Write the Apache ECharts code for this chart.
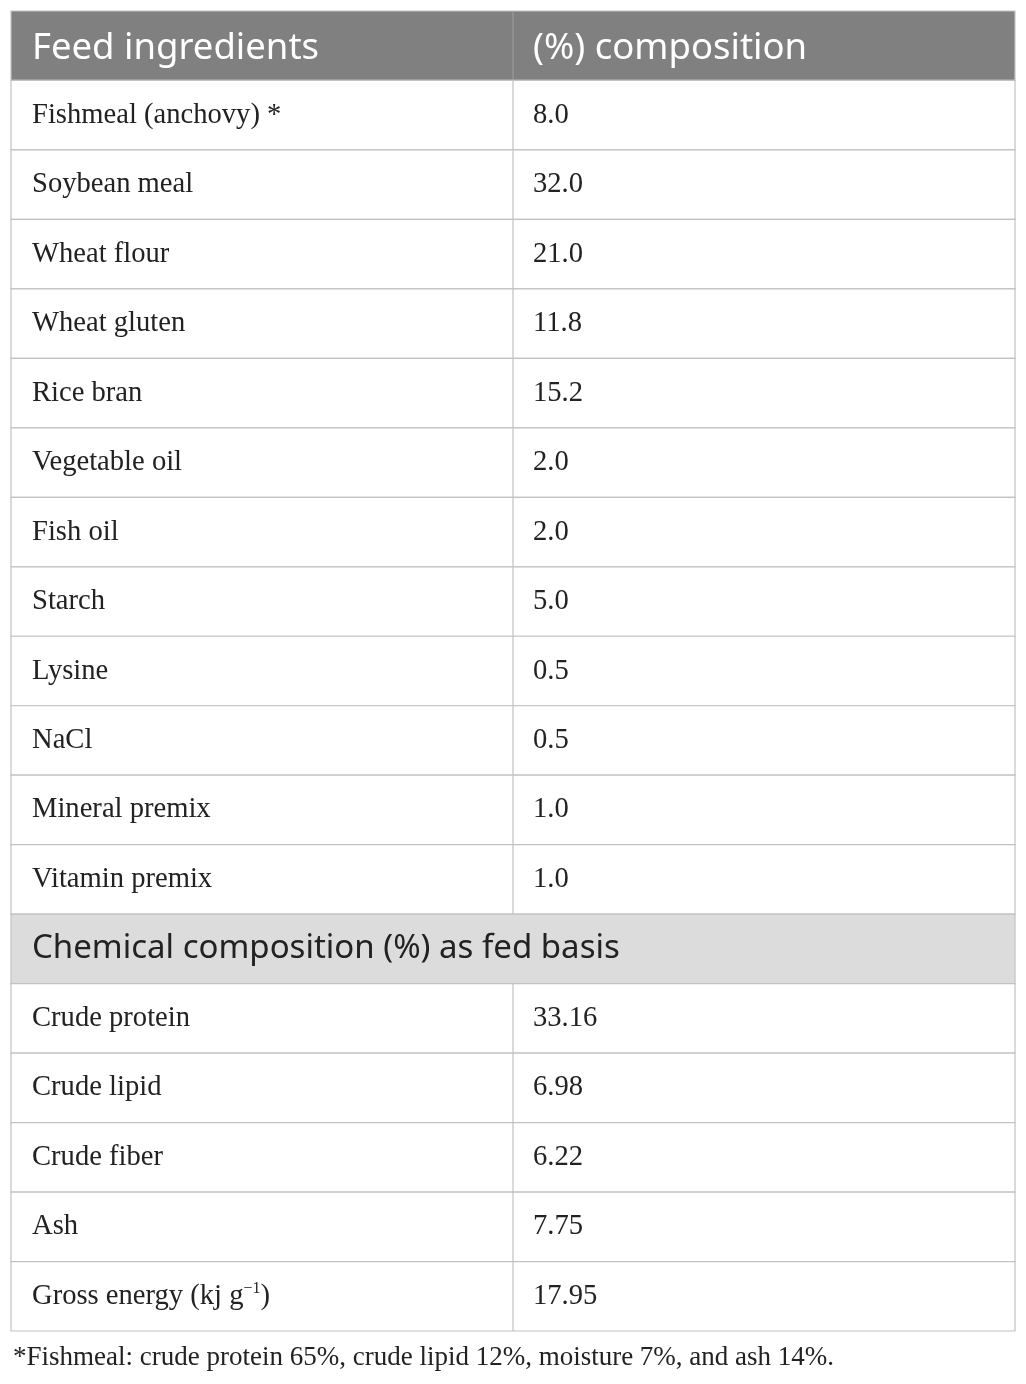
<!DOCTYPE html>
<html><head><meta charset="utf-8">
<script src="https://cdn.jsdelivr.net/npm/echarts@6/dist/echarts.min.js"></script>
<style>html,body{margin:0;padding:0;background:#fff}#c{width:1026px;height:1384px}</style>
</head><body><div id="c"></div>
<script>
const headers = ['Feed ingredients', '(%) composition'];
const ingredients = ['Fishmeal (anchovy) *', 'Soybean meal', 'Wheat flour', 'Wheat gluten', 'Rice bran', 'Vegetable oil', 'Fish oil', 'Starch', 'Lysine', 'NaCl', 'Mineral premix', 'Vitamin premix'];
const ingredientValues = ['8.0', '32.0', '21.0', '11.8', '15.2', '2.0', '2.0', '5.0', '0.5', '0.5', '1.0', '1.0'];
const sectionTitle = 'Chemical composition (%) as fed basis';
const chemicals = ['Crude protein', 'Crude lipid', 'Crude fiber', 'Ash', 'Gross energy (kj g{sup|−1})'];
const chemicalValues = ['33.16', '6.98', '6.22', '7.75', '17.95'];
const footnote = '*Fishmeal: crude protein 65%, crude lipid 12%, moisture 7%, and ash 14%.';

const rows = [];
rows.push({type: 'header', left: headers[0], right: headers[1]});
ingredients.forEach((n, i) => rows.push({type: 'body', left: n, right: ingredientValues[i]}));
rows.push({type: 'section', left: sectionTitle, right: ''});
chemicals.forEach((n, i) => rows.push({type: 'body', left: n, right: chemicalValues[i]}));
const rowIds = rows.map((r, i) => 'r' + i);

const SANS = '"Noto Sans", "Open Sans", sans-serif';
const SERIF = '"Liberation Serif", "DejaVu Serif", serif';
const LINE = '#c2c2c2';

const chart = echarts.init(document.getElementById('c'), null, {renderer: 'canvas'});
chart.setOption({
  animation: false,
  grid: {left: 11, right: 11, top: 11, bottom: 53},
  xAxis: {type: 'value', min: 0, max: 2, show: false},
  yAxis: {type: 'category', data: rowIds, inverse: true, show: false},
  title: {
    text: footnote, left: 8, top: 1339,
    textStyle: {fontFamily: SERIF, fontSize: 27, fontWeight: 'normal', color: '#222'}
  },
  series: [{
    type: 'custom',
    coordinateSystem: 'cartesian2d',
    encode: {x: 0, y: 1},
    data: rows.map((r, i) => [0, i]),
    renderItem: function (params, api) {
      const i = api.value(1);
      const r = rows[i];
      const p0 = api.coord([0, i]);
      const p1 = api.coord([1, i]);
      const p2 = api.coord([2, i]);
      const h = api.size([0, 1])[1];
      const top = p0[1] - h / 2;
      const isHead = r.type === 'header';
      const isSec = r.type === 'section';
      const cy = p0[1] + (isHead ? 3 : 0);
      const children = [];
      let bg = '#ffffff';
      if (isHead) bg = '#808080';
      else if (isSec) bg = '#dcdcdc';
      children.push({type: 'rect', shape: {x: p0[0], y: top, width: p2[0] - p0[0], height: h},
        style: {fill: bg, stroke: LINE, lineWidth: 1.2}});
      if (!isSec) {
        children.push({type: 'line', shape: {x1: p1[0], y1: top, x2: p1[0], y2: top + h},
          style: {stroke: isHead ? '#9a9a9a' : LINE, lineWidth: 1.2}});
      }
      const font = (isHead || isSec) ? SANS : SERIF;
      const size = isHead ? 36.5 : (isSec ? 33 : 28.6);
      const color = isHead ? '#ffffff' : '#222222';
      const mkText = (x, txt) => ({
        type: 'text', x: x, y: cy,
        style: {
          text: txt, fontFamily: font, fontSize: size, fill: color,
          verticalAlign: 'middle', align: 'left',
          rich: {sup: {fontSize: 16, fontFamily: font, fill: color, verticalAlign: 'top', padding: [0, 0, 15, 0]}}
        }
      });
      children.push(mkText(p0[0] + 21, r.left));
      if (r.right) children.push(mkText(p1[0] + 20, r.right));
      return {type: 'group', children: children};
    }
  }]
});
</script></body></html>
